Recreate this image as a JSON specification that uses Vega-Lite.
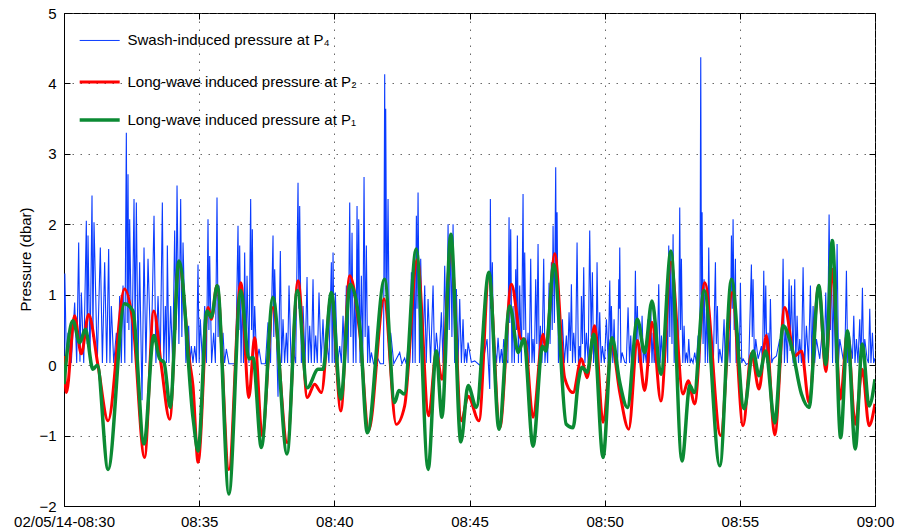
{
  "$schema": "https://vega.github.io/schema/vega-lite/v6.json",
  "width": 811,
  "height": 493,
  "autosize": {"type": "none"},
  "padding": {"left": 64, "top": 13, "right": 25, "bottom": 26},
  "background": "white",
  "config": {
    "font": "Liberation Sans",
    "view": {"stroke": "#000", "strokeWidth": 1},
    "axis": {
      "labelFont": "Liberation Sans", "labelFontSize": 15, "labelColor": "#000",
      "titleFont": "Liberation Sans", "titleFontSize": 15, "titleFontWeight": "normal", "titleColor": "#000",
      "domainColor": "#000", "tickColor": "#000", "tickSize": -6,
      "gridColor": "#444", "gridOpacity": 0.8, "gridDash": [1.5, 6.5], "gridWidth": 1
    }
  },
  "datasets": {
    "one": [{}],
    "swash": [
      {"t":0,"v":0.05},{"t":0.03,"v":1.3},{"t":0.09,"v":0.03},{"t":0.148,"v":0.46},{"t":0.27,"v":0.03},{"t":0.395,"v":0.89},{"t":0.47,"v":0.03},{"t":0.543,"v":1.74},{"t":0.59,"v":0.05},{"t":0.641,"v":1.03},{"t":0.73,"v":0.03},{"t":0.826,"v":2.05},{"t":0.86,"v":0.3},{"t":0.888,"v":1.84},{"t":0.96,"v":0.03},{"t":1.036,"v":2.41},{"t":1.07,"v":0.4},{"t":1.11,"v":2.03},{"t":1.23,"v":0.03},{"t":1.344,"v":1.67},{"t":1.42,"v":0.03},{"t":1.504,"v":1.46},{"t":1.58,"v":0.03},{"t":1.652,"v":1.65},{"t":1.7,"v":0.03},{"t":1.751,"v":0.84},{"t":1.84,"v":0.03},{"t":1.936,"v":0.46},{"t":2.0,"v":0.03},{"t":2.059,"v":0.98},{"t":2.12,"v":0.03},{"t":2.183,"v":1.13},{"t":2.25,"v":0.03},{"t":2.306,"v":3.3},{"t":2.34,"v":0.6},{"t":2.368,"v":2.71},{"t":2.4,"v":0.5},{"t":2.429,"v":2.07},{"t":2.51,"v":0.03},{"t":2.59,"v":2.36},{"t":2.63,"v":0.5},{"t":2.676,"v":2.31},{"t":2.74,"v":0.03},{"t":2.799,"v":1.46},{"t":2.886,"v":-0.5},{"t":2.96,"v":1.67},{"t":3.03,"v":0.03},{"t":3.108,"v":1.51},{"t":3.22,"v":0.03},{"t":3.33,"v":2.12},{"t":3.4,"v":0.03},{"t":3.478,"v":0.98},{"t":3.56,"v":0.03},{"t":3.638,"v":2.31},{"t":3.69,"v":0.03},{"t":3.749,"v":0.84},{"t":3.79,"v":0.03},{"t":3.823,"v":1.7},{"t":3.88,"v":0.03},{"t":3.946,"v":0.84},{"t":4.02,"v":0.03},{"t":4.094,"v":1.91},{"t":4.14,"v":0.5},{"t":4.181,"v":2.55},{"t":4.25,"v":0.3},{"t":4.316,"v":2.36},{"t":4.36,"v":0.4},{"t":4.403,"v":1.74},{"t":4.51,"v":0.03},{"t":4.612,"v":0.56},{"t":4.66,"v":0.03},{"t":4.711,"v":0.27},{"t":4.77,"v":0.03},{"t":4.834,"v":0.27},{"t":4.9,"v":0.03},{"t":4.957,"v":1.43},{"t":5.0,"v":0.03},{"t":5.043,"v":0.65},{"t":5.12,"v":0.03},{"t":5.204,"v":0.84},{"t":5.27,"v":0.03},{"t":5.327,"v":2.07},{"t":5.36,"v":0.5},{"t":5.389,"v":1.55},{"t":5.46,"v":0.03},{"t":5.537,"v":0.46},{"t":5.6,"v":0.03},{"t":5.66,"v":2.38},{"t":5.7,"v":0.4},{"t":5.734,"v":1.13},{"t":5.81,"v":0.03},{"t":5.882,"v":0.46},{"t":5.94,"v":0.03},{"t":6.005,"v":0.23},{"t":6.1,"v":0.02},{"t":6.35,"v":0.02},{"t":6.437,"v":1.98},{"t":6.47,"v":0.5},{"t":6.498,"v":1.7},{"t":6.55,"v":0.03},{"t":6.597,"v":1.03},{"t":6.64,"v":0.03},{"t":6.683,"v":1.6},{"t":6.73,"v":0.03},{"t":6.77,"v":1.27},{"t":6.84,"v":0.03},{"t":6.905,"v":2.36},{"t":6.94,"v":0.5},{"t":6.967,"v":1.93},{"t":7.01,"v":0.03},{"t":7.053,"v":0.84},{"t":7.13,"v":0.03},{"t":7.214,"v":0.23},{"t":7.3,"v":0.02},{"t":7.45,"v":0.02},{"t":7.547,"v":0.61},{"t":7.64,"v":0.03},{"t":7.732,"v":1.84},{"t":7.76,"v":0.4},{"t":7.793,"v":1.36},{"t":7.917,"v":-0.45},{"t":8.003,"v":1.62},{"t":8.05,"v":0.03},{"t":8.102,"v":0.65},{"t":8.16,"v":0.03},{"t":8.225,"v":0.46},{"t":8.27,"v":0.03},{"t":8.324,"v":1.13},{"t":8.4,"v":0.03},{"t":8.472,"v":0.23},{"t":8.57,"v":0.03},{"t":8.657,"v":2.59},{"t":8.69,"v":0.8},{"t":8.718,"v":2.26},{"t":8.78,"v":0.03},{"t":8.842,"v":0.84},{"t":8.92,"v":0.03},{"t":8.99,"v":1.25},{"t":9.04,"v":0.03},{"t":9.088,"v":0.56},{"t":9.15,"v":0.03},{"t":9.212,"v":1.22},{"t":9.26,"v":0.03},{"t":9.31,"v":0.42},{"t":9.37,"v":0.03},{"t":9.433,"v":1.03},{"t":9.51,"v":0.03},{"t":9.581,"v":0.65},{"t":9.64,"v":0.03},{"t":9.705,"v":0.42},{"t":9.8,"v":0.03},{"t":9.89,"v":1.46},{"t":9.92,"v":0.03},{"t":9.952,"v":1.6},{"t":10.0,"v":0.03},{"t":10.038,"v":1.03},{"t":10.12,"v":0.03},{"t":10.199,"v":0.27},{"t":10.26,"v":0.03},{"t":10.322,"v":0.7},{"t":10.38,"v":0.03},{"t":10.445,"v":1.13},{"t":10.51,"v":0.03},{"t":10.569,"v":2.31},{"t":10.61,"v":0.4},{"t":10.655,"v":1.88},{"t":10.7,"v":0.03},{"t":10.754,"v":1.03},{"t":10.8,"v":0.03},{"t":10.84,"v":2.26},{"t":10.87,"v":0.6},{"t":10.902,"v":2.07},{"t":10.95,"v":0.03},{"t":11.0,"v":1.27},{"t":11.05,"v":0.03},{"t":11.099,"v":2.67},{"t":11.14,"v":0.4},{"t":11.185,"v":1.7},{"t":11.23,"v":0.03},{"t":11.272,"v":0.56},{"t":11.32,"v":0.03},{"t":11.37,"v":0.18},{"t":11.45,"v":0.02},{"t":11.6,"v":0.1},{"t":11.7,"v":0.02},{"t":11.82,"v":0.02},{"t":11.863,"v":4.13},{"t":11.88,"v":1.2},{"t":11.9,"v":3.64},{"t":11.94,"v":0.8},{"t":11.987,"v":2.36},{"t":12.04,"v":0.03},{"t":12.085,"v":0.46},{"t":12.2,"v":0.02},{"t":12.418,"v":0.18},{"t":12.5,"v":0.02},{"t":12.6,"v":0.1},{"t":12.66,"v":0.02},{"t":12.727,"v":0.27},{"t":12.79,"v":0.03},{"t":12.85,"v":1.32},{"t":12.9,"v":0.03},{"t":12.949,"v":1.51},{"t":12.99,"v":0.03},{"t":13.035,"v":2.12},{"t":13.06,"v":0.8},{"t":13.097,"v":2.45},{"t":13.15,"v":0.03},{"t":13.195,"v":1.51},{"t":13.27,"v":0.03},{"t":13.343,"v":1.13},{"t":13.4,"v":0.03},{"t":13.467,"v":0.94},{"t":13.56,"v":0.03},{"t":13.652,"v":1.13},{"t":13.71,"v":0.03},{"t":13.775,"v":0.46},{"t":13.87,"v":0.03},{"t":13.96,"v":0.75},{"t":14.02,"v":0.03},{"t":14.083,"v":1.41},{"t":14.15,"v":0.03},{"t":14.207,"v":2.0},{"t":14.25,"v":0.5},{"t":14.305,"v":1.86},{"t":14.35,"v":0.4},{"t":14.392,"v":2.0},{"t":14.45,"v":0.03},{"t":14.515,"v":1.08},{"t":14.58,"v":0.03},{"t":14.638,"v":0.94},{"t":14.7,"v":0.03},{"t":14.761,"v":0.65},{"t":14.81,"v":0.03},{"t":14.86,"v":0.23},{"t":14.9,"v":0.03},{"t":14.946,"v":0.32},{"t":15.069,"v":0.04},{"t":15.193,"v":0.06},{"t":15.378,"v":0.0},{"t":15.5,"v":0.05},{"t":15.649,"v":0.37},{"t":15.748,"v":-0.34},{"t":15.772,"v":2.36},{"t":15.8,"v":0.8},{"t":15.846,"v":1.46},{"t":15.89,"v":0.03},{"t":15.933,"v":0.27},{"t":16.0,"v":0.03},{"t":16.056,"v":0.39},{"t":16.12,"v":0.03},{"t":16.179,"v":0.23},{"t":16.22,"v":0.03},{"t":16.266,"v":0.37},{"t":16.339,"v":0.09},{"t":16.42,"v":0.03},{"t":16.463,"v":2.1},{"t":16.49,"v":0.6},{"t":16.524,"v":1.93},{"t":16.57,"v":0.03},{"t":16.611,"v":0.84},{"t":16.66,"v":0.03},{"t":16.709,"v":1.36},{"t":16.74,"v":0.5},{"t":16.771,"v":1.84},{"t":16.81,"v":0.03},{"t":16.857,"v":1.13},{"t":16.92,"v":0.03},{"t":16.981,"v":2.43},{"t":17.01,"v":0.5},{"t":17.042,"v":1.6},{"t":17.1,"v":0.03},{"t":17.166,"v":0.46},{"t":17.21,"v":0.03},{"t":17.264,"v":1.51},{"t":17.31,"v":0.03},{"t":17.351,"v":0.37},{"t":17.4,"v":0.03},{"t":17.449,"v":1.22},{"t":17.49,"v":0.3},{"t":17.536,"v":1.72},{"t":17.58,"v":0.03},{"t":17.622,"v":0.56},{"t":17.68,"v":0.03},{"t":17.745,"v":1.51},{"t":17.79,"v":0.03},{"t":17.844,"v":0.37},{"t":17.89,"v":0.03},{"t":17.943,"v":1.17},{"t":17.98,"v":0.3},{"t":18.029,"v":1.46},{"t":18.06,"v":0.5},{"t":18.091,"v":1.98},{"t":18.14,"v":0.6},{"t":18.189,"v":2.81},{"t":18.21,"v":1.2},{"t":18.239,"v":2.17},{"t":18.29,"v":0.03},{"t":18.337,"v":0.56},{"t":18.39,"v":0.03},{"t":18.436,"v":0.65},{"t":18.51,"v":0.03},{"t":18.584,"v":0.42},{"t":18.63,"v":0.03},{"t":18.683,"v":0.75},{"t":18.73,"v":0.2},{"t":18.769,"v":1.15},{"t":18.81,"v":0.03},{"t":18.855,"v":0.46},{"t":18.92,"v":0.03},{"t":18.979,"v":1.74},{"t":19.03,"v":0.03},{"t":19.077,"v":0.27},{"t":19.11,"v":0.03},{"t":19.139,"v":0.98},{"t":19.18,"v":0.3},{"t":19.225,"v":1.39},{"t":19.27,"v":0.03},{"t":19.324,"v":0.46},{"t":19.39,"v":0.03},{"t":19.447,"v":1.91},{"t":19.5,"v":0.4},{"t":19.546,"v":1.32},{"t":19.59,"v":0.03},{"t":19.632,"v":0.37},{"t":19.68,"v":0.03},{"t":19.718,"v":1.46},{"t":19.77,"v":0.03},{"t":19.817,"v":0.75},{"t":19.87,"v":0.03},{"t":19.916,"v":0.27},{"t":19.99,"v":0.03},{"t":20.064,"v":0.65},{"t":20.13,"v":0.03},{"t":20.188,"v":1.2},{"t":20.22,"v":0.3},{"t":20.249,"v":0.84},{"t":20.3,"v":0.03},{"t":20.348,"v":0.65},{"t":20.39,"v":0.03},{"t":20.434,"v":0.18},{"t":20.48,"v":0.03},{"t":20.521,"v":1.22},{"t":20.538,"v":0.8},{"t":20.558,"v":1.67},{"t":20.6,"v":0.03},{"t":20.644,"v":0.18},{"t":20.743,"v":0.04},{"t":20.8,"v":0.03},{"t":20.866,"v":0.82},{"t":20.92,"v":0.03},{"t":20.965,"v":0.42},{"t":21.0,"v":0.03},{"t":21.051,"v":0.18},{"t":21.09,"v":0.03},{"t":21.137,"v":1.34},{"t":21.17,"v":0.3},{"t":21.211,"v":0.84},{"t":21.25,"v":0.03},{"t":21.297,"v":0.23},{"t":21.34,"v":0.03},{"t":21.384,"v":0.7},{"t":21.43,"v":0.03},{"t":21.482,"v":0.23},{"t":21.54,"v":0.03},{"t":21.606,"v":0.65},{"t":21.65,"v":0.03},{"t":21.704,"v":0.84},{"t":21.75,"v":0.03},{"t":21.791,"v":0.46},{"t":21.83,"v":0.03},{"t":21.877,"v":0.23},{"t":21.94,"v":0.03},{"t":22.0,"v":1.15},{"t":22.05,"v":0.03},{"t":22.099,"v":0.42},{"t":22.15,"v":0.03},{"t":22.198,"v":0.18},{"t":22.24,"v":0.03},{"t":22.284,"v":0.7},{"t":22.33,"v":0.03},{"t":22.37,"v":1.7},{"t":22.41,"v":0.4},{"t":22.444,"v":1.6},{"t":22.49,"v":0.3},{"t":22.531,"v":1.86},{"t":22.57,"v":0.03},{"t":22.617,"v":0.65},{"t":22.65,"v":0.03},{"t":22.691,"v":0.18},{"t":22.73,"v":0.03},{"t":22.777,"v":2.24},{"t":22.81,"v":0.5},{"t":22.839,"v":1.51},{"t":22.89,"v":0.03},{"t":22.938,"v":0.56},{"t":22.98,"v":0.03},{"t":23.024,"v":0.18},{"t":23.07,"v":0.03},{"t":23.11,"v":0.37},{"t":23.16,"v":0.03},{"t":23.209,"v":0.09},{"t":23.27,"v":0.03},{"t":23.332,"v":0.18},{"t":23.39,"v":0.03},{"t":23.456,"v":0.42},{"t":23.52,"v":0.03},{"t":23.554,"v":4.37},{"t":23.58,"v":1.0},{"t":23.604,"v":2.17},{"t":23.64,"v":0.3},{"t":23.678,"v":1.22},{"t":23.72,"v":0.03},{"t":23.764,"v":0.8},{"t":23.81,"v":0.03},{"t":23.85,"v":1.67},{"t":23.9,"v":0.03},{"t":23.949,"v":0.46},{"t":24.02,"v":0.03},{"t":24.097,"v":1.46},{"t":24.13,"v":0.3},{"t":24.171,"v":0.84},{"t":24.21,"v":0.03},{"t":24.257,"v":0.23},{"t":24.34,"v":0.03},{"t":24.417,"v":0.65},{"t":24.46,"v":0.03},{"t":24.504,"v":0.23},{"t":24.55,"v":0.03},{"t":24.59,"v":0.46},{"t":24.64,"v":0.03},{"t":24.689,"v":1.84},{"t":24.72,"v":0.8},{"t":24.75,"v":2.07},{"t":24.79,"v":0.5},{"t":24.837,"v":1.51},{"t":24.86,"v":0.03},{"t":24.88,"v":0.6},{"t":24.91,"v":0.03},{"t":24.935,"v":0.46},{"t":24.98,"v":0.03},{"t":25.021,"v":1.17},{"t":25.07,"v":0.03},{"t":25.12,"v":0.09},{"t":25.243,"v":0.01},{"t":25.33,"v":0.03},{"t":25.428,"v":1.43},{"t":25.46,"v":0.4},{"t":25.49,"v":1.22},{"t":25.54,"v":0.03},{"t":25.589,"v":0.37},{"t":25.675,"v":0.09},{"t":25.798,"v":0.27},{"t":25.84,"v":0.03},{"t":25.885,"v":1.34},{"t":25.92,"v":0.4},{"t":25.959,"v":1.13},{"t":26.0,"v":0.03},{"t":26.045,"v":0.46},{"t":26.09,"v":0.03},{"t":26.131,"v":0.94},{"t":26.18,"v":0.03},{"t":26.23,"v":0.09},{"t":26.353,"v":0.13},{"t":26.476,"v":0.37},{"t":26.54,"v":0.03},{"t":26.6,"v":1.51},{"t":26.65,"v":0.03},{"t":26.698,"v":0.56},{"t":26.76,"v":0.03},{"t":26.822,"v":1.22},{"t":26.86,"v":0.2},{"t":26.908,"v":1.13},{"t":26.97,"v":0.03},{"t":27.031,"v":1.22},{"t":27.07,"v":0.03},{"t":27.118,"v":0.7},{"t":27.17,"v":0.03},{"t":27.216,"v":0.37},{"t":27.28,"v":0.03},{"t":27.34,"v":1.39},{"t":27.4,"v":0.03},{"t":27.463,"v":0.56},{"t":27.54,"v":0.03},{"t":27.611,"v":1.13},{"t":27.66,"v":0.03},{"t":27.71,"v":0.84},{"t":27.77,"v":0.03},{"t":27.833,"v":0.37},{"t":27.956,"v":0.09},{"t":28.055,"v":0.51},{"t":28.12,"v":0.03},{"t":28.178,"v":1.03},{"t":28.24,"v":0.03},{"t":28.302,"v":2.14},{"t":28.35,"v":0.5},{"t":28.388,"v":1.79},{"t":28.43,"v":0.03},{"t":28.474,"v":1.03},{"t":28.54,"v":0.03},{"t":28.598,"v":1.72},{"t":28.65,"v":0.03},{"t":28.696,"v":0.37},{"t":28.82,"v":0.09},{"t":28.88,"v":0.03},{"t":28.943,"v":1.34},{"t":28.99,"v":0.03},{"t":29.042,"v":0.46},{"t":29.165,"v":0.09},{"t":29.215,"v":0.7},{"t":29.26,"v":0.03},{"t":29.313,"v":0.37},{"t":29.37,"v":0.03},{"t":29.436,"v":0.65},{"t":29.48,"v":0.03},{"t":29.535,"v":1.1},{"t":29.58,"v":0.03},{"t":29.621,"v":0.37},{"t":29.708,"v":0.09},{"t":29.76,"v":0.03},{"t":29.806,"v":0.8},{"t":29.85,"v":0.03},{"t":29.905,"v":0.46},{"t":29.95,"v":0.03},{"t":30,"v":0.1}
    ],
    "p2": [
      {"t":0,"v":0.13},{"t":0.09,"v":-0.39},{"t":0.39,"v":0.7},{"t":0.64,"v":0.16},{"t":0.91,"v":0.72},{"t":1.26,"v":-0.01},{"t":1.63,"v":-0.79},{"t":2.24,"v":1.08},{"t":2.55,"v":0.6},{"t":2.98,"v":-1.31},{"t":3.32,"v":0.77},{"t":3.6,"v":-0.01},{"t":3.91,"v":-0.77},{"t":4.25,"v":1.46},{"t":4.65,"v":0.04},{"t":4.77,"v":-0.29},{"t":4.96,"v":-1.38},{"t":5.33,"v":0.82},{"t":5.45,"v":0.65},{"t":5.66,"v":1.13},{"t":6.1,"v":-1.48},{"t":6.54,"v":1.17},{"t":6.84,"v":-0.46},{"t":7.05,"v":0.39},{"t":7.33,"v":-1.0},{"t":7.73,"v":0.82},{"t":8.26,"v":-1.1},{"t":8.66,"v":1.2},{"t":9.0,"v":-0.46},{"t":9.27,"v":-0.27},{"t":9.52,"v":-0.39},{"t":9.89,"v":1.0},{"t":10.24,"v":-0.65},{"t":10.57,"v":1.27},{"t":10.94,"v":0.46},{"t":11.27,"v":-0.93},{"t":11.84,"v":0.94},{"t":12.29,"v":-0.84},{"t":12.6,"v":-0.58},{"t":13.07,"v":1.5},{"t":13.49,"v":-0.72},{"t":13.77,"v":0.18},{"t":13.98,"v":-0.2},{"t":14.31,"v":1.65},{"t":14.7,"v":-0.79},{"t":14.95,"v":-0.44},{"t":15.35,"v":-0.79},{"t":15.72,"v":1.29},{"t":16.12,"v":-0.89},{"t":16.55,"v":1.15},{"t":16.92,"v":0.37},{"t":17.04,"v":0.37},{"t":17.35,"v":-0.74},{"t":17.72,"v":0.44},{"t":17.82,"v":0.23},{"t":18.15,"v":1.58},{"t":18.52,"v":-0.18},{"t":18.83,"v":-0.39},{"t":19.14,"v":0.09},{"t":19.35,"v":-0.18},{"t":19.63,"v":0.56},{"t":19.94,"v":-0.81},{"t":20.27,"v":0.27},{"t":20.56,"v":-0.39},{"t":20.89,"v":-0.91},{"t":21.21,"v":0.35},{"t":21.48,"v":-0.36},{"t":21.75,"v":0.61},{"t":22.08,"v":-0.51},{"t":22.45,"v":1.46},{"t":22.9,"v":-0.41},{"t":23.09,"v":-0.22},{"t":23.33,"v":-0.55},{"t":23.7,"v":1.17},{"t":24.29,"v":-1.0},{"t":24.72,"v":1.03},{"t":25.12,"v":-0.86},{"t":25.43,"v":0.17},{"t":25.71,"v":-0.34},{"t":25.98,"v":0.42},{"t":26.29,"v":-0.99},{"t":26.66,"v":0.82},{"t":27.03,"v":0.13},{"t":27.28,"v":0.2},{"t":27.56,"v":-0.53},{"t":27.92,"v":1.13},{"t":28.18,"v":-0.09},{"t":28.42,"v":1.36},{"t":28.72,"v":-0.48},{"t":28.98,"v":0.46},{"t":29.27,"v":-0.84},{"t":29.53,"v":-0.06},{"t":29.78,"v":-0.86},{"t":30,"v":-0.55}
    ],
    "p1": [
      {"t":0,"v":-0.27},{"t":0.33,"v":0.63},{"t":0.58,"v":0.32},{"t":0.79,"v":0.51},{"t":1.07,"v":-0.06},{"t":1.23,"v":0.0},{"t":1.63,"v":-1.48},{"t":2.24,"v":0.87},{"t":2.55,"v":0.77},{"t":2.96,"v":-1.12},{"t":3.32,"v":0.42},{"t":3.54,"v":0.09},{"t":3.7,"v":0.04},{"t":3.93,"v":-0.6},{"t":4.25,"v":1.48},{"t":4.78,"v":-0.77},{"t":4.96,"v":-1.22},{"t":5.29,"v":0.77},{"t":5.45,"v":0.68},{"t":5.67,"v":1.13},{"t":6.1,"v":-1.83},{"t":6.54,"v":1.06},{"t":6.84,"v":0.09},{"t":6.99,"v":0.11},{"t":7.3,"v":-1.17},{"t":7.73,"v":0.96},{"t":8.25,"v":-1.26},{"t":8.63,"v":1.06},{"t":9.0,"v":-0.32},{"t":9.4,"v":-0.06},{"t":9.58,"v":-0.06},{"t":9.89,"v":1.03},{"t":10.24,"v":-0.48},{"t":10.59,"v":1.15},{"t":10.94,"v":0.56},{"t":11.22,"v":-0.96},{"t":11.86,"v":1.22},{"t":12.23,"v":-0.53},{"t":12.39,"v":-0.36},{"t":12.58,"v":-0.41},{"t":13.03,"v":1.65},{"t":13.47,"v":-1.48},{"t":13.77,"v":0.2},{"t":13.98,"v":-0.74},{"t":14.31,"v":1.86},{"t":14.68,"v":-1.09},{"t":14.95,"v":-0.29},{"t":15.25,"v":-0.6},{"t":15.72,"v":1.32},{"t":16.09,"v":-0.91},{"t":16.49,"v":0.84},{"t":16.8,"v":0.18},{"t":17.01,"v":0.37},{"t":17.35,"v":-1.15},{"t":17.7,"v":0.27},{"t":17.82,"v":0.2},{"t":18.12,"v":1.43},{"t":18.58,"v":-0.84},{"t":18.83,"v":-0.89},{"t":19.02,"v":-0.25},{"t":19.16,"v":-0.03},{"t":19.35,"v":-0.1},{"t":19.6,"v":0.44},{"t":19.94,"v":-1.31},{"t":20.27,"v":0.39},{"t":20.56,"v":-0.25},{"t":20.84,"v":-0.6},{"t":21.21,"v":0.65},{"t":21.48,"v":0.18},{"t":21.75,"v":0.91},{"t":22.08,"v":-0.13},{"t":22.45,"v":1.62},{"t":22.86,"v":-1.36},{"t":23.15,"v":-0.29},{"t":23.31,"v":-0.39},{"t":23.68,"v":1.06},{"t":24.26,"v":-1.43},{"t":24.69,"v":1.22},{"t":25.16,"v":-0.62},{"t":25.49,"v":0.2},{"t":25.71,"v":-0.15},{"t":25.96,"v":0.2},{"t":26.29,"v":-0.82},{"t":26.6,"v":0.56},{"t":26.91,"v":0.27},{"t":27.28,"v":-0.41},{"t":27.56,"v":-0.6},{"t":27.92,"v":1.13},{"t":28.18,"v":0.01},{"t":28.42,"v":1.77},{"t":28.73,"v":-1.03},{"t":28.98,"v":0.49},{"t":29.27,"v":-1.19},{"t":29.53,"v":0.3},{"t":29.78,"v":-0.58},{"t":30,"v":-0.2}
    ]
  },
  "layer": [
    {
      "data": {"name": "swash"},
      "mark": {"type": "line", "color": "#0a3cff", "strokeWidth": 1.1, "clip": true},
      "encoding": {
        "x": {"field": "t", "type": "quantitative",
          "scale": {"domain": [0, 30], "nice": false, "zero": false},
          "axis": {"orient": "bottom", "values": [0, 5, 10, 15, 20, 25, 30], "title": null, "grid": true,
            "labelExpr": "datum.value == 0 ? '02/05/14-08:30' : (datum.value == 30 ? '09:00' : '08:' + (30 + datum.value))",
            "labelFlush": false, "labelPadding": 14, "domain": true}},
        "y": {"field": "v", "type": "quantitative",
          "scale": {"domain": [-2, 5], "nice": false, "zero": false},
          "axis": {"orient": "left", "values": [-2, -1, 0, 1, 2, 3, 4, 5], "title": "Pressure (dbar)", "grid": true,
            "labelPadding": 14, "titleX": -39, "titleY": 246, "titleAlign": "center", "titleBaseline": "middle", "titleAngle": -90}}
      }
    },
    {
      "data": {"name": "p2"},
      "mark": {"type": "line", "color": "#ff0000", "strokeWidth": 3, "interpolate": "monotone", "clip": true},
      "encoding": {
        "x": {"field": "t", "type": "quantitative",
          "axis": {"orient": "top", "values": [0, 5, 10, 15, 20, 25, 30], "labels": false, "grid": false, "domain": false, "title": null}},
        "y": {"field": "v", "type": "quantitative",
          "axis": {"orient": "right", "values": [-2, -1, 0, 1, 2, 3, 4, 5], "labels": false, "grid": false, "domain": false, "title": null}}
      }
    },
    {
      "data": {"name": "p1"},
      "mark": {"type": "line", "color": "#0b8a33", "strokeWidth": 3.5, "interpolate": "monotone", "clip": true},
      "encoding": {
        "x": {"field": "t", "type": "quantitative", "axis": null},
        "y": {"field": "v", "type": "quantitative", "axis": null}
      }
    },
    {
      "data": {"name": "one"},
      "mark": {"type": "rule", "color": "#0a3cff", "strokeWidth": 1},
      "encoding": {"x": {"datum": 0.58, "type": "quantitative", "axis": null}, "x2": {"datum": 2.06}, "y": {"datum": 4.61, "type": "quantitative", "axis": null}}
    },
    {
      "data": {"name": "one"},
      "mark": {"type": "rule", "color": "#ff0000", "strokeWidth": 3},
      "encoding": {"x": {"datum": 0.58, "type": "quantitative", "axis": null}, "x2": {"datum": 2.06}, "y": {"datum": 4.02, "type": "quantitative", "axis": null}}
    },
    {
      "data": {"name": "one"},
      "mark": {"type": "rule", "color": "#0b8a33", "strokeWidth": 3.5},
      "encoding": {"x": {"datum": 0.58, "type": "quantitative", "axis": null}, "x2": {"datum": 2.06}, "y": {"datum": 3.48, "type": "quantitative", "axis": null}}
    },
    {
      "data": {"name": "one"},
      "mark": {"type": "text", "text": "Swash-induced pressure at P₄", "align": "left", "baseline": "middle", "fontSize": 15, "font": "Liberation Sans", "color": "#000"},
      "encoding": {"x": {"datum": 2.35, "type": "quantitative", "axis": null}, "y": {"datum": 4.61, "type": "quantitative", "axis": null}}
    },
    {
      "data": {"name": "one"},
      "mark": {"type": "text", "text": "Long-wave induced pressure at P₂", "align": "left", "baseline": "middle", "fontSize": 15, "font": "Liberation Sans", "color": "#000"},
      "encoding": {"x": {"datum": 2.35, "type": "quantitative", "axis": null}, "y": {"datum": 4.02, "type": "quantitative", "axis": null}}
    },
    {
      "data": {"name": "one"},
      "mark": {"type": "text", "text": "Long-wave induced pressure at P₁", "align": "left", "baseline": "middle", "fontSize": 15, "font": "Liberation Sans", "color": "#000"},
      "encoding": {"x": {"datum": 2.35, "type": "quantitative", "axis": null}, "y": {"datum": 3.48, "type": "quantitative", "axis": null}}
    }
  ]
}
